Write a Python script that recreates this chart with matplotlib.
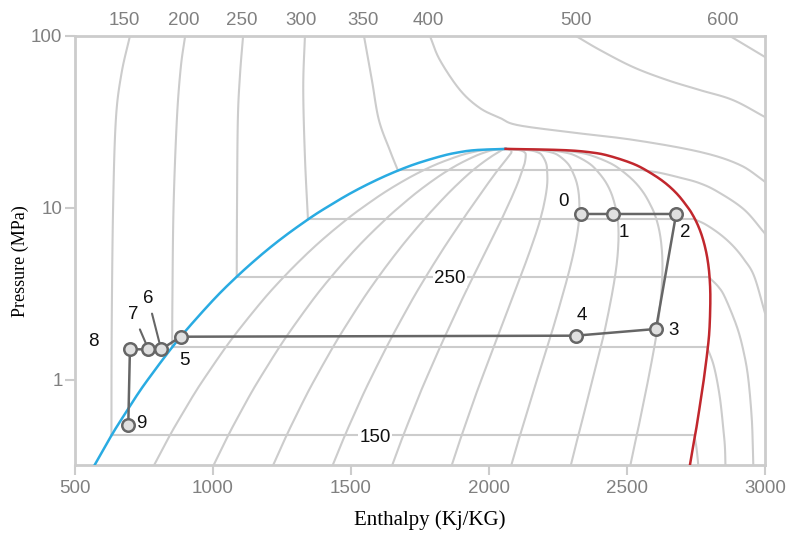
import numpy as np
import matplotlib
matplotlib.use('Agg')
import matplotlib.pyplot as plt

# ---------------- data ----------------
# saturation curve (pressure MPa, liquid / vapour enthalpy kJ/kg)
sat_P = [0.3, 0.4, 0.5, 0.6, 0.8, 1.0, 1.5, 2.0, 3.0, 4.0, 5.0, 6.0, 7.0, 8.0,
         9.0, 10.0, 12.0, 14.0, 16.0, 18.0, 20.0, 21.0, 21.7, 22.06]
sat_hf = [561, 605, 640, 671, 721, 763, 845, 909, 1008, 1087, 1154, 1213, 1267,
          1317, 1363, 1408, 1491, 1571, 1650, 1732, 1826, 1885, 1950, 2060]
sat_hg = [2725, 2738, 2749, 2757, 2769, 2778, 2792, 2799, 2802, 2799, 2792, 2782,
          2770, 2756, 2740, 2722, 2683, 2638, 2585, 2525, 2440, 2375, 2270, 2060]
qualities = [0.1, 0.2, 0.3, 0.4, 0.5, 0.6, 0.7, 0.8, 0.9]

# isotherms (deg C): liquid branch from top, vapour branch from saturation
t150_liq_h = [699, 668, 648, 638, 633, 632]
t150_liq_P = [100, 60, 32.5, 10, 2, 0.476]
t150_vap_h = [2744, 2752, 2760]
t150_vap_P = [0.476, 0.4, 0.3]

t200_liq_h = [899, 883, 869, 857, 853, 852]
t200_liq_P = [100, 65, 32.5, 10, 3, 1.554]
t200_vap_h = [2790, 2815, 2836, 2850, 2855, 2857]
t200_vap_P = [1.554, 1.2, 0.8, 0.5, 0.4, 0.3]

t250_liq_h = [1109, 1098, 1090, 1087, 1086]
t250_liq_P = [100, 60, 32.5, 10, 3.976]
t250_vap_h = [2795, 2830, 2856, 2900, 2925, 2940, 2952, 2956, 2958]
t250_vap_P = [3.976, 3.5, 3.0, 2.0, 1.4, 1.0, 0.6, 0.4, 0.3]

t300_liq_h = [1333, 1327, 1333, 1344]
t300_liq_P = [100, 50, 20, 8.588]
t300_vap_h = [2745, 2786, 2839, 2885, 2925, 2961, 3000]
t300_vap_P = [8.588, 8.0, 7.0, 6.0, 5.0, 4.0, 2.45]

t350_liq_h = [1547, 1576, 1601, 1641, 1670]
t350_liq_P = [100, 55, 32.5, 21.6, 16.53]
t350_vap_h = [2563, 2620, 2693, 2760, 2826, 2924, 3000]
t350_vap_P = [16.53, 16.0, 15.0, 14.0, 12.5, 9.8, 7.1]

t400_h = [1786, 1822, 1895, 1967, 2040, 2101, 2283, 2522, 2764, 2909, 3000]
t400_P = [100, 72.5, 48.5, 38.1, 33.4, 30.4, 27.7, 24.9, 21.2, 17.8, 14.2]
t500_h = [2315, 2402, 2522, 2645, 2764, 2884, 3000]
t500_P = [100, 82.9, 66.0, 55.5, 48.5, 42.4, 33.8]
t600_h = [2873, 3000]
t600_P = [100, 75.5]

top_labels = ['150', '200', '250', '300', '350', '400', '500', '600']
top_label_h = [680, 895, 1105, 1320, 1543, 1779, 2315, 2848]

# cycle state points
cycle_labels = ['0', '1', '2', '3', '4', '5', '6', '7', '8', '9']
cycle_h = [2332, 2450, 2678, 2605, 2314, 883, 812, 766, 699, 693]
cycle_P = [9.23, 9.23, 9.23, 1.98, 1.81, 1.785, 1.508, 1.508, 1.508, 0.548]

# ---------------- drawing ----------------
SX, SY = 0.276, 172.0


def smooth(hs, Ps, n=20):
    x = np.asarray(hs, float) * SX
    y = np.log10(np.asarray(Ps, float)) * SY
    pts = np.column_stack([x, y])
    if len(pts) < 3:
        return np.asarray(hs, float), np.asarray(Ps, float)
    p = np.vstack([2 * pts[0] - pts[1], pts, 2 * pts[-1] - pts[-2]])
    out = []
    t = np.linspace(0, 1, n, endpoint=False)[:, None]
    for i in range(1, len(p) - 2):
        p0, p1, p2, p3 = p[i - 1], p[i], p[i + 1], p[i + 2]
        seg = 0.5 * ((2 * p1) + (-p0 + p2) * t + (2 * p0 - 5 * p1 + 4 * p2 - p3) * t ** 2
                     + (-p0 + 3 * p1 - 3 * p2 + p3) * t ** 3)
        out.append(seg)
    out.append(pts[-1:])
    out = np.vstack(out)
    return out[:, 0] / SX, 10 ** (out[:, 1] / SY)


W, H = 789, 533
fig = plt.figure(figsize=(W / 100, H / 100), dpi=100)
ax = fig.add_axes([75 / W, (H - 465) / H, 690 / W, 429 / H])
ax.set_yscale('log')
ax.set_xlim(500, 3000)
ax.set_ylim(10 ** (-85 / 172), 100)

GREY = '#cccccc'
LW = 1.5
SANS = ['Liberation Sans', 'DejaVu Sans']

# quality lines
hf_arr = np.array(sat_hf, float)
hg_arr = np.array(sat_hg, float)
for q in qualities:
    hq = hf_arr + q * (hg_arr - hf_arr)
    xs, ys = smooth(hq, sat_P)
    ax.plot(xs, ys, color=GREY, lw=LW, zorder=1)

# isotherms
subcrit = [
    (t150_liq_h, t150_liq_P, t150_vap_h, t150_vap_P),
    (t200_liq_h, t200_liq_P, t200_vap_h, t200_vap_P),
    (t250_liq_h, t250_liq_P, t250_vap_h, t250_vap_P),
    (t300_liq_h, t300_liq_P, t300_vap_h, t300_vap_P),
    (t350_liq_h, t350_liq_P, t350_vap_h, t350_vap_P),
]
for lh, lp, vh, vp in subcrit:
    xs, ys = smooth(lh, lp)
    ax.plot(xs, ys, color=GREY, lw=LW, zorder=1)
    ax.plot([lh[-1], vh[0]], [lp[-1], vp[0]], color=GREY, lw=LW, zorder=1)
    xs, ys = smooth(vh, vp)
    ax.plot(xs, ys, color=GREY, lw=LW, zorder=1)
for hh, pp in [(t400_h, t400_P), (t500_h, t500_P), (t600_h, t600_P)]:
    xs, ys = smooth(hh, pp)
    ax.plot(xs, ys, color=GREY, lw=LW, zorder=1)

# saturation dome
xs, ys = smooth(sat_hf, sat_P)
ax.plot(xs, ys, color='#29abe2', lw=1.8, zorder=3)
xs, ys = smooth(sat_hg, sat_P)
ax.plot(xs, ys, color='#c1272d', lw=1.8, zorder=3)

# isotherm labels inside the chart
for txt, hx, pp in [('250', 1859, t250_liq_P[-1]), ('150', 1587, t150_liq_P[-1])]:
    ax.annotate(txt, (hx, pp), xytext=(0, -2), textcoords='offset pixels',
                ha='center', va='center', fontsize=13.5, color='#111111',
                family=SANS,
                bbox=dict(boxstyle='square,pad=0.05', fc='white', ec='none'), zorder=4)

# cycle
ax.plot(cycle_h, cycle_P, color='#666666', lw=1.8, zorder=5)
ax.plot(cycle_h, cycle_P, 'o', ms=9, mfc='#e0e0e0', mec='#666666', mew=1.8, zorder=6)
offsets = [(-17, 12), (11, -19), (9, -19), (18, -2), (6, 20), (4, -24),
           (-13, 51), (-15, 35), (-37, 8), (13, 1)]
for i, lab in enumerate(cycle_labels):
    dx, dy = offsets[i]
    kw = {}
    if lab in ('6', '7'):
        kw['arrowprops'] = dict(arrowstyle='-', color='#666666', lw=1.5,
                                shrinkA=3, shrinkB=5)
    ax.annotate(lab, (cycle_h[i], cycle_P[i]), xytext=(dx, dy),
                textcoords='offset pixels', ha='center', va='center',
                fontsize=13.5, color='#111111', family=SANS, zorder=7, **kw)

# axes styling
for s in ax.spines.values():
    s.set_color(GREY)
    s.set_linewidth(2)
ax.set_xticks([500, 1000, 1500, 2000, 2500, 3000])
ax.set_xticklabels(['500', '1000', '1500', '2000', '2500', '3000'])
ax.set_yticks([1, 10, 100])
ax.set_yticklabels(['1', '10', '100'])
ax.yaxis.set_minor_locator(matplotlib.ticker.NullLocator())
ax.tick_params(axis='both', which='major', length=7, width=1.5, color=GREY,
               labelcolor='#808080', labelsize=13.5)
ax.tick_params(axis='x', pad=4)
ax.tick_params(axis='y', pad=2)
for lab in ax.get_xticklabels() + ax.get_yticklabels():
    lab.set_family('Liberation Sans')

sec = ax.secondary_xaxis('top')
sec.set_xticks(top_label_h)
sec.set_xticklabels(top_labels)
sec.tick_params(length=0, labelcolor='#808080', labelsize=13.5, pad=5)
sec.spines['top'].set_visible(False)
for lab in sec.get_xticklabels():
    lab.set_family('Liberation Sans')

ax.set_xlabel('Enthalpy (Kj/KG)', family='Liberation Serif', fontsize=15)
ax.xaxis.set_label_coords((430 - 75) / 690, -0.106)
ax.set_ylabel('Pressure (MPa)', family='Liberation Serif', fontsize=13)
ax.yaxis.set_label_coords(-0.066, 0.4755)

fig.savefig('out.png', dpi=100)
